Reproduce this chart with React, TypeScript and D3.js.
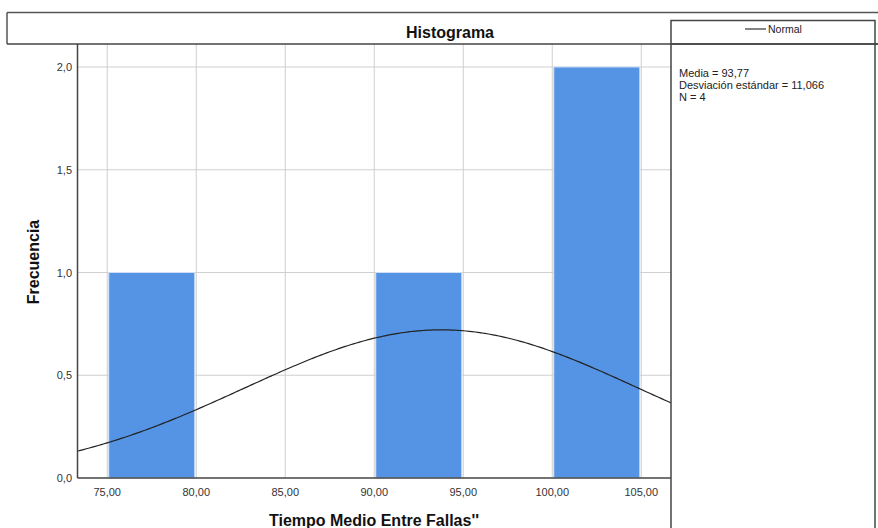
import React from "react";
import * as d3 from "d3";

// Histogram bins (lower edge, upper edge, frequency)
const binLower = [75, 90, 100];
const binUpper = [80, 95, 105];
const binCount = [1, 1, 2];

const xTicks = [75, 80, 85, 90, 95, 100, 105];
const yTicks = [0, 0.5, 1.0, 1.5, 2.0];

// Summary statistics for the fitted normal curve
const mean = 93.77;
const stdDev = 11.066;
const nObs = 4;
const binWidth = 5;

const statLines = ["Media = 93,77", "Desviación estándar = 11,066", "N = 4"];

const W = 878;
const H = 528;
const plotLeft = 77.5;
const plotRight = 671;
const plotTop = 44;
const plotBottom = 478;

const fmtX = (v: number) => v.toFixed(2).replace(".", ",");
const fmtY = (v: number) => v.toFixed(1).replace(".", ",");

export default function App() {
  const x = d3.scaleLinear().domain([73.33, 106.67]).range([plotLeft, plotRight]);
  const y = d3.scaleLinear().domain([0, 2]).range([plotBottom, 67]);

  const normal = (v: number) =>
    (nObs * binWidth) / (stdDev * Math.sqrt(2 * Math.PI)) *
    Math.exp(-0.5 * ((v - mean) / stdDev) ** 2);
  const curvePts = d3.range(0, 201).map((i) => {
    const v = 73.33 + (i / 200) * (106.67 - 73.33);
    return [v, normal(v)] as [number, number];
  });
  const line = d3
    .line<[number, number]>()
    .x((d) => x(d[0]))
    .y((d) => y(d[1]))
    .curve(d3.curveBasis);

  const font = "'Liberation Sans', Arial, sans-serif";

  return (
    <svg
      width={W}
      height={H}
      style={{ position: "absolute", left: 0, top: 0, display: "block", background: "#fff" }}
      fontFamily={font}
    >
      <rect x={0} y={0} width={W} height={H} fill="#fff" />

      {/* grid */}
      {xTicks.map((t) => (
        <line key={"gx" + t} x1={x(t)} x2={x(t)} y1={plotTop} y2={plotBottom} stroke="#cfcfcf" strokeWidth={1} />
      ))}
      {yTicks.slice(1).map((t) => (
        <line key={"gy" + t} x1={plotLeft} x2={plotRight} y1={y(t)} y2={y(t)} stroke="#cfcfcf" strokeWidth={1} />
      ))}

      {/* bars */}
      {binCount.map((c, i) => (
        <rect
          key={"b" + i}
          x={x(binLower[i]) + 1.5}
          y={y(c)}
          width={x(binUpper[i]) - x(binLower[i]) - 3}
          height={y(0) - y(c)}
          fill="#5594e4"
          stroke="#cfe0f6"
          strokeWidth={1}
        />
      ))}

      {/* normal curve */}
      <path d={line(curvePts) || ""} fill="none" stroke="#222" strokeWidth={1.2} />

      {/* axes */}
      <line x1={plotLeft} x2={plotLeft} y1={plotTop} y2={plotBottom} stroke="#444" strokeWidth={1.5} />
      <line x1={plotLeft} x2={plotRight} y1={plotBottom} y2={plotBottom} stroke="#444" strokeWidth={1.5} />

      {yTicks.map((t) => (
        <text key={"ty" + t} x={72} y={y(t) + 4} textAnchor="end" fontSize={11} fill="#333">
          {fmtY(t)}
        </text>
      ))}
      {xTicks.map((t) => (
        <text key={"tx" + t} x={x(t)} y={496} textAnchor="middle" fontSize={11} fill="#333">
          {fmtX(t)}
        </text>
      ))}

      {/* axis titles */}
      <text
        transform={`translate(39,262) rotate(-90)`}
        textAnchor="middle"
        fontSize={16}
        fontWeight="bold"
        fill="#111"
      >
        Frecuencia
      </text>
      <text x={374} y={526} textAnchor="middle" fontSize={16} fontWeight="bold" fill="#111">
        Tiempo Medio Entre Fallas''
      </text>

      {/* title box */}
      <line x1={7} x2={W} y1={12.5} y2={12.5} stroke="#555" strokeWidth={1.5} />
      <line x1={7} x2={7} y1={12.5} y2={44} stroke="#555" strokeWidth={1.5} />
      <line x1={7} x2={W} y1={44} y2={44} stroke="#444" strokeWidth={1.5} />
      <text x={450} y={38} textAnchor="middle" fontSize={16} fontWeight="bold" fill="#111">
        Histograma
      </text>

      {/* legend panel */}
      <rect x={671} y={20.5} width={204} height={H} fill="none" stroke="#444" strokeWidth={1.5} />
      <line x1={671} x2={W} y1={44} y2={44} stroke="#444" strokeWidth={1.5} />
      <line x1={745} x2={766} y1={29} y2={29} stroke="#333" strokeWidth={1.2} />
      <text x={768} y={32.5} fontSize={10.5} fill="#222">
        Normal
      </text>
      {statLines.map((s, i) => (
        <text key={"s" + i} x={679} y={77.3 + i * 12} fontSize={11} fill="#222">
          {s}
        </text>
      ))}
    </svg>
  );
}
